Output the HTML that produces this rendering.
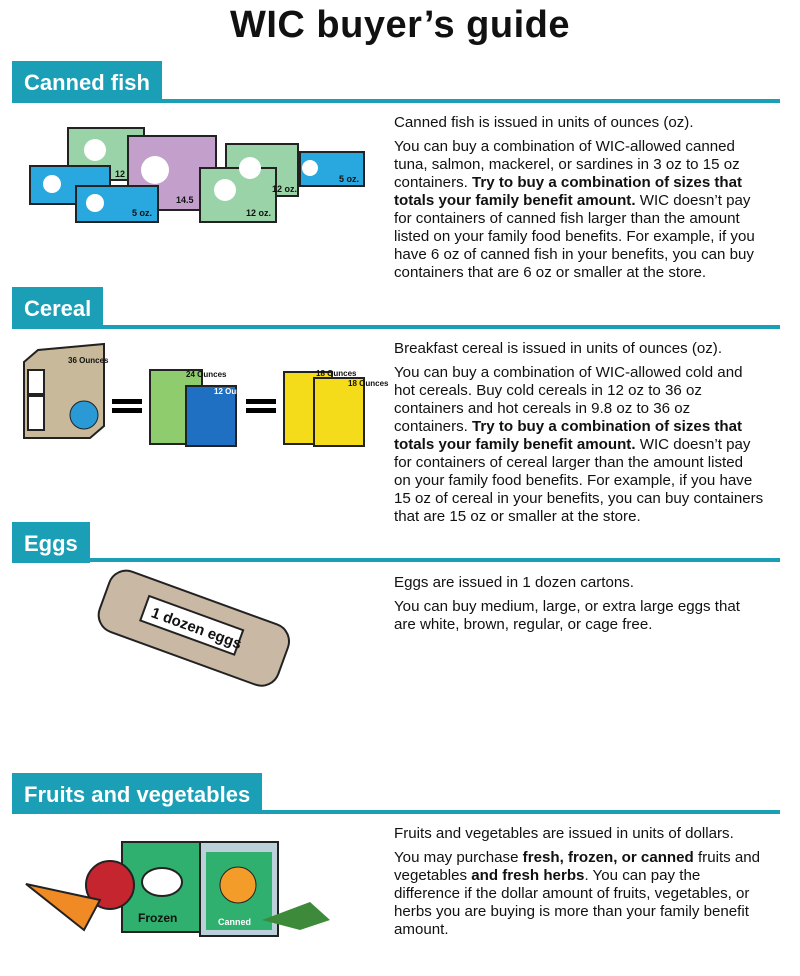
<!DOCTYPE html>
<html><head><meta charset="utf-8"><style>
body{margin:0;width:800px;height:976px;background:#fff;font-family:"Liberation Sans",sans-serif;position:relative;overflow:hidden;color:#111}
h1{position:absolute;top:4px;left:0;width:800px;text-align:center;margin:0;font-size:38px;font-weight:bold;letter-spacing:0.5px}
.tab{position:absolute;left:12px;background:#1a9fb6;color:#fff;font-weight:bold;font-size:22px;padding:0 12px;height:41px;line-height:44px;box-sizing:border-box}
.rule{position:absolute;left:12px;width:768px;height:4px;background:#1a9fb6}
.txt{position:absolute;left:394px;width:400px;font-size:15.1px;line-height:18px;white-space:nowrap}
.txt p{margin:0 0 6px}
svg{position:absolute}
</style></head><body>
<h1>WIC buyer’s guide</h1>

<div class="tab" style="top:61px">Canned fish</div><div class="rule" style="top:99px"></div>
<div class="tab" style="top:287px">Cereal</div><div class="rule" style="top:325px"></div>
<div class="tab" style="top:522px">Eggs</div><div class="rule" style="top:558px"></div>
<div class="tab" style="top:773px">Fruits and vegetables</div><div class="rule" style="top:810px"></div>

<div class="txt" style="top:114px"><p>Canned fish is issued in units of ounces (oz).</p><p>You can buy a combination of WIC-allowed canned<br>tuna, salmon, mackerel, or sardines in 3 oz to 15 oz<br>containers. <b>Try to buy a combination of sizes that<br>totals your family benefit amount.</b> WIC doesn’t pay<br>for containers of canned fish larger than the amount<br>listed on your family food benefits. For example, if you<br>have 6 oz of canned fish in your benefits, you can buy<br>containers that are 6 oz or smaller at the store.</p></div>
<div class="txt" style="top:340px"><p>Breakfast cereal is issued in units of ounces (oz).</p><p>You can buy a combination of WIC-allowed cold and<br>hot cereals. Buy cold cereals in 12 oz to 36 oz<br>containers and hot cereals in 9.8 oz to 36 oz<br>containers. <b>Try to buy a combination of sizes that<br>totals your family benefit amount.</b> WIC doesn’t pay<br>for containers of cereal larger than the amount listed<br>on your family food benefits. For example, if you have<br>15 oz of cereal in your benefits, you can buy containers<br>that are 15 oz or smaller at the store.</p></div>
<div class="txt" style="top:574px"><p>Eggs are issued in 1 dozen cartons.</p><p>You can buy medium, large, or extra large eggs that<br>are white, brown, regular, or cage free.</p></div>
<div class="txt" style="top:825px"><p>Fruits and vegetables are issued in units of dollars.</p><p>You may purchase <b>fresh, frozen, or canned</b> fruits and<br>vegetables <b>and fresh herbs</b>. You can pay the<br>difference if the dollar amount of fruits, vegetables, or<br>herbs you are buying is more than your family benefit<br>amount.</p></div>

<svg width="800" height="976" viewBox="0 0 800 976" style="left:0;top:0" font-family="Liberation Sans" font-weight="bold">
<g stroke="#222" stroke-width="2">
<rect x="68" y="128" width="76" height="52" fill="#9bd3a8"/>
<rect x="30" y="166" width="80" height="38" fill="#29a8e0"/>
<rect x="128" y="136" width="88" height="74" fill="#c39fcb"/>
<rect x="226" y="144" width="72" height="52" fill="#9bd3a8"/>
<rect x="300" y="152" width="64" height="34" fill="#29a8e0"/>
<rect x="76" y="186" width="82" height="36" fill="#29a8e0"/>
<rect x="200" y="168" width="76" height="54" fill="#9bd3a8"/>
</g>
<g font-size="9" fill="#111"><text x="115" y="177">12</text><text x="176" y="203">14.5</text><text x="272" y="192">12 oz.</text><text x="339" y="182">5 oz.</text><text x="132" y="216">5 oz.</text><text x="246" y="216">12 oz.</text></g>
<g fill="#fff"><circle cx="95" cy="150" r="11"/><circle cx="155" cy="170" r="14"/><circle cx="250" cy="168" r="11"/><circle cx="52" cy="184" r="9"/><circle cx="95" cy="203" r="9"/><circle cx="225" cy="190" r="11"/><circle cx="310" cy="168" r="8"/></g>

<g stroke="#222" stroke-width="2">
<polygon points="24,362 38,350 104,344 104,426 90,438 24,438" fill="#c8b99a"/>
<rect x="150" y="370" width="52" height="74" fill="#8fcc6e"/>
<rect x="186" y="386" width="50" height="60" fill="#1f6fc2"/>
<rect x="284" y="372" width="48" height="72" fill="#f5dc1a"/>
<rect x="314" y="378" width="50" height="68" fill="#f5dc1a"/>
<rect x="28" y="370" width="16" height="24" fill="#fff"/><rect x="28" y="396" width="16" height="34" fill="#fff"/>
</g>
<circle cx="84" cy="415" r="14" fill="#2a9ad6" stroke="#222"/>
<g font-size="8" fill="#111"><text x="68" y="363">36 Ounces</text><text x="186" y="377">24 Ounces</text><text x="214" y="394" fill="#fff">12 Ounces</text><text x="316" y="376">18 Ounces</text><text x="348" y="386">18 Ounces</text></g>
<rect x="112" y="399" width="30" height="5" fill="#000"/><rect x="112" y="408" width="30" height="5" fill="#000"/>
<rect x="246" y="399" width="30" height="5" fill="#000"/><rect x="246" y="408" width="30" height="5" fill="#000"/>

<g transform="rotate(20 190 630)">
<rect x="98" y="595" width="190" height="64" rx="18" fill="#c9b9a4" stroke="#222" stroke-width="2"/>
<rect x="140" y="612" width="100" height="26" fill="#fff" stroke="#222" stroke-width="2"/>
<text x="148" y="631" font-size="15" fill="#111">1 dozen eggs</text>
</g>

<rect x="122" y="842" width="80" height="90" fill="#2fb06e" stroke="#222" stroke-width="2"/>
<ellipse cx="162" cy="882" rx="20" ry="14" fill="#fff" stroke="#222" stroke-width="2"/>
<text x="138" y="922" font-size="12" fill="#111">Frozen</text>
<rect x="200" y="842" width="78" height="94" fill="#bcd0da" stroke="#222" stroke-width="2"/>
<rect x="206" y="852" width="66" height="78" fill="#2fb06e"/>
<circle cx="238" cy="885" r="18" fill="#f49c2a" stroke="#222"/>
<text x="218" y="925" font-size="9" fill="#fff">Canned</text>
<circle cx="110" cy="885" r="24" fill="#c4252f" stroke="#222" stroke-width="2"/>
<polygon points="26,884 100,900 84,930" fill="#f08a24" stroke="#222" stroke-width="2"/>
<polygon points="262,920 310,902 330,920 300,930" fill="#3d8a3a"/>
</svg>
</body></html>
